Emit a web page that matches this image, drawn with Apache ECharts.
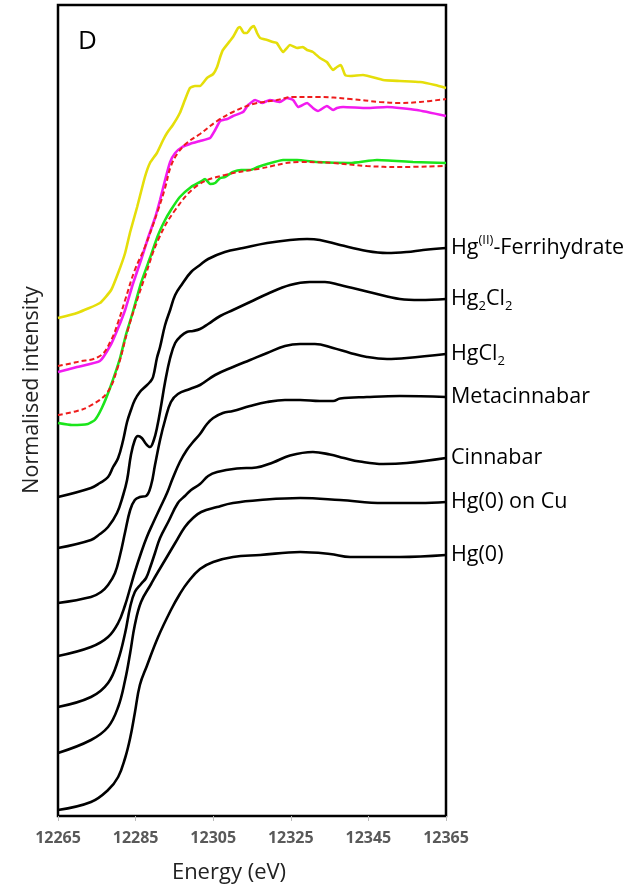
<!DOCTYPE html>
<html><head><meta charset="utf-8">
<script src="https://cdn.jsdelivr.net/npm/echarts@6/dist/echarts.min.js"></script>
<style>html,body{margin:0;padding:0;background:#fff}#c{width:634px;height:886px}</style>
</head><body><div id="c"></div>
<script>
// Energy (eV) tick labels
const xTicks = [12265, 12285, 12305, 12325, 12345, 12365];

// Reference spectra (offset normalised intensity), [energy, intensity]
const ferrihydrate = [[12265,1.276],[12273.5,1.312],[12275.8,1.332],[12277.9,1.356],[12279.2,1.396],[12280.5,1.432],[12281.8,1.504],[12282.8,1.576],[12283.8,1.624],[12284.8,1.664],[12286.1,1.696],[12287.4,1.716],[12288.7,1.736],[12289.5,1.756],[12290.5,1.832],[12291.3,1.876],[12292.6,1.964],[12293.9,2.024],[12295.2,2.084],[12297.0,2.128],[12299.3,2.176],[12301.6,2.204],[12303.7,2.228],[12308.0,2.256],[12312.7,2.272],[12318.9,2.292],[12324.8,2.304],[12329.2,2.308],[12332.5,2.304],[12337.7,2.284],[12344.6,2.26],[12349.8,2.252],[12354.9,2.256],[12359.1,2.264],[12365,2.272]];
const hg2cl2 = [[12265,1.072],[12273.5,1.104],[12275.8,1.128],[12277.9,1.156],[12280.2,1.212],[12281.8,1.284],[12282.8,1.344],[12283.8,1.444],[12284.8,1.504],[12285.6,1.52],[12286.6,1.512],[12287.7,1.488],[12288.7,1.476],[12289.7,1.504],[12290.5,1.552],[12291.6,1.644],[12292.6,1.736],[12293.9,1.832],[12295.2,1.892],[12296.7,1.92],[12298.2,1.936],[12299.8,1.94],[12301.6,1.948],[12303.7,1.968],[12306.8,2.0],[12310.1,2.024],[12314.5,2.056],[12318.9,2.088],[12324.8,2.124],[12329.9,2.136],[12333.8,2.136],[12337.7,2.124],[12346.2,2.092],[12353.1,2.068],[12358.3,2.064],[12365,2.068]];
const hgcl2 = [[12265,0.852],[12273.5,0.876],[12276.1,0.896],[12277.9,0.924],[12279.7,0.972],[12281.0,1.044],[12282.3,1.136],[12283.6,1.224],[12284.8,1.264],[12286.1,1.276],[12287.7,1.28],[12289.0,1.324],[12290.0,1.404],[12291.3,1.504],[12292.6,1.584],[12294.1,1.656],[12295.9,1.688],[12299.0,1.708],[12301.6,1.724],[12305.5,1.764],[12310.1,1.796],[12314.5,1.824],[12318.9,1.852],[12323.5,1.88],[12327.4,1.888],[12331.2,1.888],[12335.9,1.872],[12340.3,1.852],[12344.6,1.836],[12349.8,1.828],[12354.9,1.832],[12365,1.848]];
const metacinnabar = [[12265,0.64],[12273.5,0.676],[12277.9,0.716],[12280.5,0.772],[12282.3,0.844],[12283.6,0.912],[12284.8,0.976],[12286.4,1.052],[12287.9,1.116],[12289.5,1.172],[12291.3,1.232],[12293.1,1.292],[12294.6,1.352],[12296.4,1.416],[12298.2,1.464],[12299.8,1.496],[12301.6,1.528],[12303.4,1.568],[12305.0,1.592],[12307.5,1.612],[12310.1,1.62],[12314.5,1.64],[12318.9,1.656],[12323.5,1.664],[12327.4,1.664],[12332.5,1.66],[12335.9,1.66],[12337.7,1.67],[12344.6,1.676],[12353.1,1.68],[12365,1.676]];
const cinnabar = [[12265,0.436],[12273.5,0.476],[12277.9,0.532],[12280.5,0.624],[12282.3,0.732],[12283.6,0.836],[12284.8,0.896],[12286.4,0.928],[12287.7,0.952],[12288.7,0.992],[12290.0,1.052],[12291.3,1.112],[12293.4,1.176],[12295.9,1.252],[12297.7,1.28],[12299.3,1.304],[12301.6,1.328],[12303.7,1.36],[12306.0,1.376],[12311.1,1.39],[12316.1,1.394],[12320.4,1.414],[12324.8,1.442],[12330.7,1.456],[12335.1,1.446],[12338.7,1.432],[12342.8,1.418],[12348.8,1.408],[12354.9,1.412],[12365,1.432]];
const hg0OnCu = [[12265,0.252],[12273.5,0.304],[12277.9,0.356],[12280.5,0.436],[12282.3,0.544],[12283.6,0.652],[12284.8,0.764],[12286.4,0.856],[12289.0,0.928],[12290.0,0.956],[12292.6,1.024],[12295.2,1.092],[12297.7,1.156],[12299.8,1.192],[12301.9,1.216],[12306.0,1.236],[12310.1,1.252],[12317.1,1.264],[12327.4,1.272],[12337.7,1.264],[12348.8,1.252],[12358.3,1.252],[12365,1.256]];
const hg0 = [[12265,0.024],[12273.5,0.056],[12277.9,0.104],[12280.5,0.156],[12282.3,0.232],[12283.6,0.312],[12284.8,0.412],[12286.1,0.524],[12287.9,0.6],[12290.8,0.716],[12294.1,0.824],[12296.4,0.888],[12298.5,0.936],[12301.6,0.988],[12305.0,1.016],[12310.1,1.036],[12317.1,1.044],[12327.4,1.056],[12335.1,1.048],[12340.3,1.036],[12353.1,1.036],[12365,1.044]];

// Samples and fits
const sampleYellow = [[12265,1.992],[12269.9,2.012],[12275.8,2.052],[12278.7,2.104],[12280.5,2.172],[12282.3,2.252],[12283.6,2.336],[12285.4,2.436],[12287.4,2.556],[12288.7,2.612],[12290.5,2.652],[12292.1,2.704],[12293.1,2.732],[12294.6,2.764],[12296.4,2.812],[12297.7,2.864],[12299.0,2.912],[12300.3,2.92],[12301.6,2.92],[12303.4,2.952],[12305.0,2.968],[12306.0,2.996],[12306.8,3.036],[12307.5,3.064],[12309.3,3.1],[12310.1,3.116],[12311.4,3.152],[12311.9,3.156],[12312.9,3.132],[12313.7,3.132],[12314.7,3.152],[12315.5,3.16],[12316.3,3.132],[12317.1,3.112],[12318.9,3.104],[12320.4,3.096],[12321.4,3.092],[12323.0,3.056],[12324.8,3.084],[12326.6,3.072],[12328.1,3.076],[12329.2,3.064],[12330.7,3.056],[12332.5,3.032],[12334.3,3.016],[12335.9,2.984],[12336.9,2.996],[12337.9,3.004],[12339.0,2.964],[12340.3,2.96],[12343.6,2.964],[12348.8,2.944],[12353.1,2.94],[12358.3,2.936],[12362.2,2.924],[12365,2.912]];
const sampleMagenta = [[12265,1.776],[12269.9,1.796],[12275.8,1.82],[12278.7,1.888],[12280.5,1.952],[12282.3,2.024],[12284.3,2.128],[12286.4,2.224],[12288.2,2.312],[12290.0,2.392],[12291.3,2.464],[12292.6,2.544],[12293.9,2.616],[12295.2,2.652],[12297.0,2.676],[12299.0,2.688],[12301.6,2.7],[12304.2,2.712],[12305.5,2.744],[12306.8,2.78],[12308.6,2.788],[12310.1,2.8],[12312.7,2.816],[12314.0,2.844],[12315.8,2.864],[12317.6,2.852],[12319.6,2.864],[12322.2,2.856],[12324.0,2.872],[12325.6,2.864],[12326.9,2.836],[12329.2,2.852],[12330.7,2.832],[12332.0,2.82],[12334.3,2.84],[12335.9,2.824],[12336.9,2.832],[12338.5,2.836],[12344.6,2.832],[12349.8,2.836],[12357.5,2.824],[12365,2.8]];
const fitMagenta = [[12265,1.8],[12269.9,1.816],[12275.8,1.84],[12278.7,1.904],[12280.5,1.976],[12282.3,2.064],[12284.8,2.184],[12287.4,2.276],[12290.8,2.424],[12292.6,2.512],[12294.1,2.6],[12295.9,2.652],[12298.2,2.692],[12301.6,2.728],[12306.0,2.78],[12310.1,2.816],[12315.3,2.848],[12321.4,2.864],[12325.6,2.876],[12331.8,2.876],[12340.3,2.868],[12348.0,2.856],[12353.1,2.852],[12358.3,2.856],[12365,2.868]];
const sampleGreen = [[12265,1.572],[12268.6,1.564],[12272.7,1.568],[12274.5,1.584],[12276.3,1.632],[12278.4,1.712],[12281.0,1.832],[12282.5,1.924],[12284.3,2.016],[12286.4,2.132],[12288.7,2.232],[12290.8,2.324],[12292.6,2.384],[12294.1,2.424],[12296.4,2.476],[12299.3,2.516],[12301.6,2.536],[12302.9,2.548],[12304.2,2.528],[12305.5,2.532],[12306.8,2.552],[12308.0,2.556],[12310.1,2.576],[12312.2,2.584],[12314.5,2.584],[12316.5,2.596],[12318.9,2.608],[12323.0,2.624],[12326.6,2.624],[12331.8,2.616],[12340.3,2.612],[12347.2,2.624],[12356.5,2.616],[12365,2.612]];
const fitGreen = [[12265,1.604],[12269.9,1.62],[12273.2,1.64],[12277.6,1.692],[12280.2,1.784],[12283.0,1.944],[12285.4,2.064],[12287.4,2.156],[12290.8,2.304],[12295.2,2.424],[12301.1,2.524],[12308.0,2.564],[12316.5,2.588],[12327.4,2.616],[12335.9,2.612],[12344.6,2.6],[12353.1,2.596],[12365,2.6]];

const refNames = ['Hg(II)-Ferrihydrate','Hg2Cl2','HgCl2','Metacinnabar','Cinnabar','Hg(0) on Cu','Hg(0)'];
const refLabels = ['{n|Hg}{sup|(II)}{n|-Ferrihydrate}','{n|Hg}{sub|2}{n|Cl}{sub|2}','{n|HgCl}{sub|2}','{n|Metacinnabar}','{n|Cinnabar}','{n|Hg(0) on Cu}','{n|Hg(0)}'];
const refData = [ferrihydrate, hg2cl2, hgcl2, metacinnabar, cinnabar, hg0OnCu, hg0];

const FONT = 'Open Sans';
const rich = {
  n: {fontSize: 21.5, fontFamily: FONT, color: '#000', lineHeight: 28},
  sup: {fontSize: 13, fontFamily: FONT, color: '#000', lineHeight: 15, verticalAlign: 'top'},
  sub: {fontSize: 13, fontFamily: FONT, color: '#000', lineHeight: 15, verticalAlign: 'bottom'}
};

const series = [];
refData.forEach((d, i) => {
  series.push({
    name: refNames[i], type: 'line', data: d, showSymbol: false, smooth: 0.4,
    lineStyle: {color: '#000', width: 2.6}, itemStyle: {color: '#000'},
    endLabel: {show: true, distance: 5, formatter: () => refLabels[i], rich: rich},
    z: 2
  });
});
const coloured = [
  {name: 'Sample (yellow)', data: sampleYellow, color: '#E5DE0A', type: 'solid', w: 2.6, smooth: 0.15},
  {name: 'Sample (magenta)', data: sampleMagenta, color: '#F21BF0', type: 'solid', w: 2.6, smooth: 0.15},
  {name: 'Sample (green)', data: sampleGreen, color: '#1BE51B', type: 'solid', w: 2.6, smooth: 0.15},
  {name: 'Fit (magenta)', data: fitMagenta, color: '#EE1C1C', type: [5, 3], w: 2, smooth: 0.4},
  {name: 'Fit (green)', data: fitGreen, color: '#EE1C1C', type: [5, 3], w: 2, smooth: 0.4}
];
coloured.forEach(c => {
  series.push({
    name: c.name, type: 'line', data: c.data, showSymbol: false, smooth: c.smooth,
    lineStyle: {color: c.color, width: c.w, type: c.type}, itemStyle: {color: c.color}, z: 3
  });
});

const chart = echarts.init(document.getElementById('c'), null, {renderer: 'canvas'});
chart.setOption({
  animation: false,
  backgroundColor: '#fff',
  grid: {left: 58, right: 188, top: 5, bottom: 70, show: true, borderColor: '#000', borderWidth: 2.5, backgroundColor: 'transparent'},
  xAxis: {
    type: 'value', min: 12265, max: 12365,
    axisLine: {show: false},
    axisTick: {show: true, length: 5, lineStyle: {color: '#bbb'}, customValues: xTicks},
    axisLabel: {color: '#595959', fontFamily: FONT, fontWeight: 'bold', fontSize: 16, margin: 14, customValues: xTicks, formatter: v => String(v)},
    splitLine: {show: false}
  },
  yAxis: {
    type: 'value', min: 0, max: 3.244,
    axisLine: {show: false}, axisTick: {show: false}, axisLabel: {show: false}, splitLine: {show: false}
  },
  graphic: [
    {type: 'text', left: 78, top: 29, style: {text: 'D', font: '26px "Open Sans"', fill: '#000'}},
    {type: 'text', x: 229, y: 873, style: {text: 'Energy (eV)', font: '22px "Open Sans"', fill: '#222', align: 'center', verticalAlign: 'middle'}},
    {type: 'text', x: 32, y: 390, rotation: Math.PI / 2, style: {text: 'Normalised intensity', font: '21.5px "Open Sans"', fill: '#222', align: 'center', verticalAlign: 'middle'}}
  ],
  series: series
});
</script></body></html>
